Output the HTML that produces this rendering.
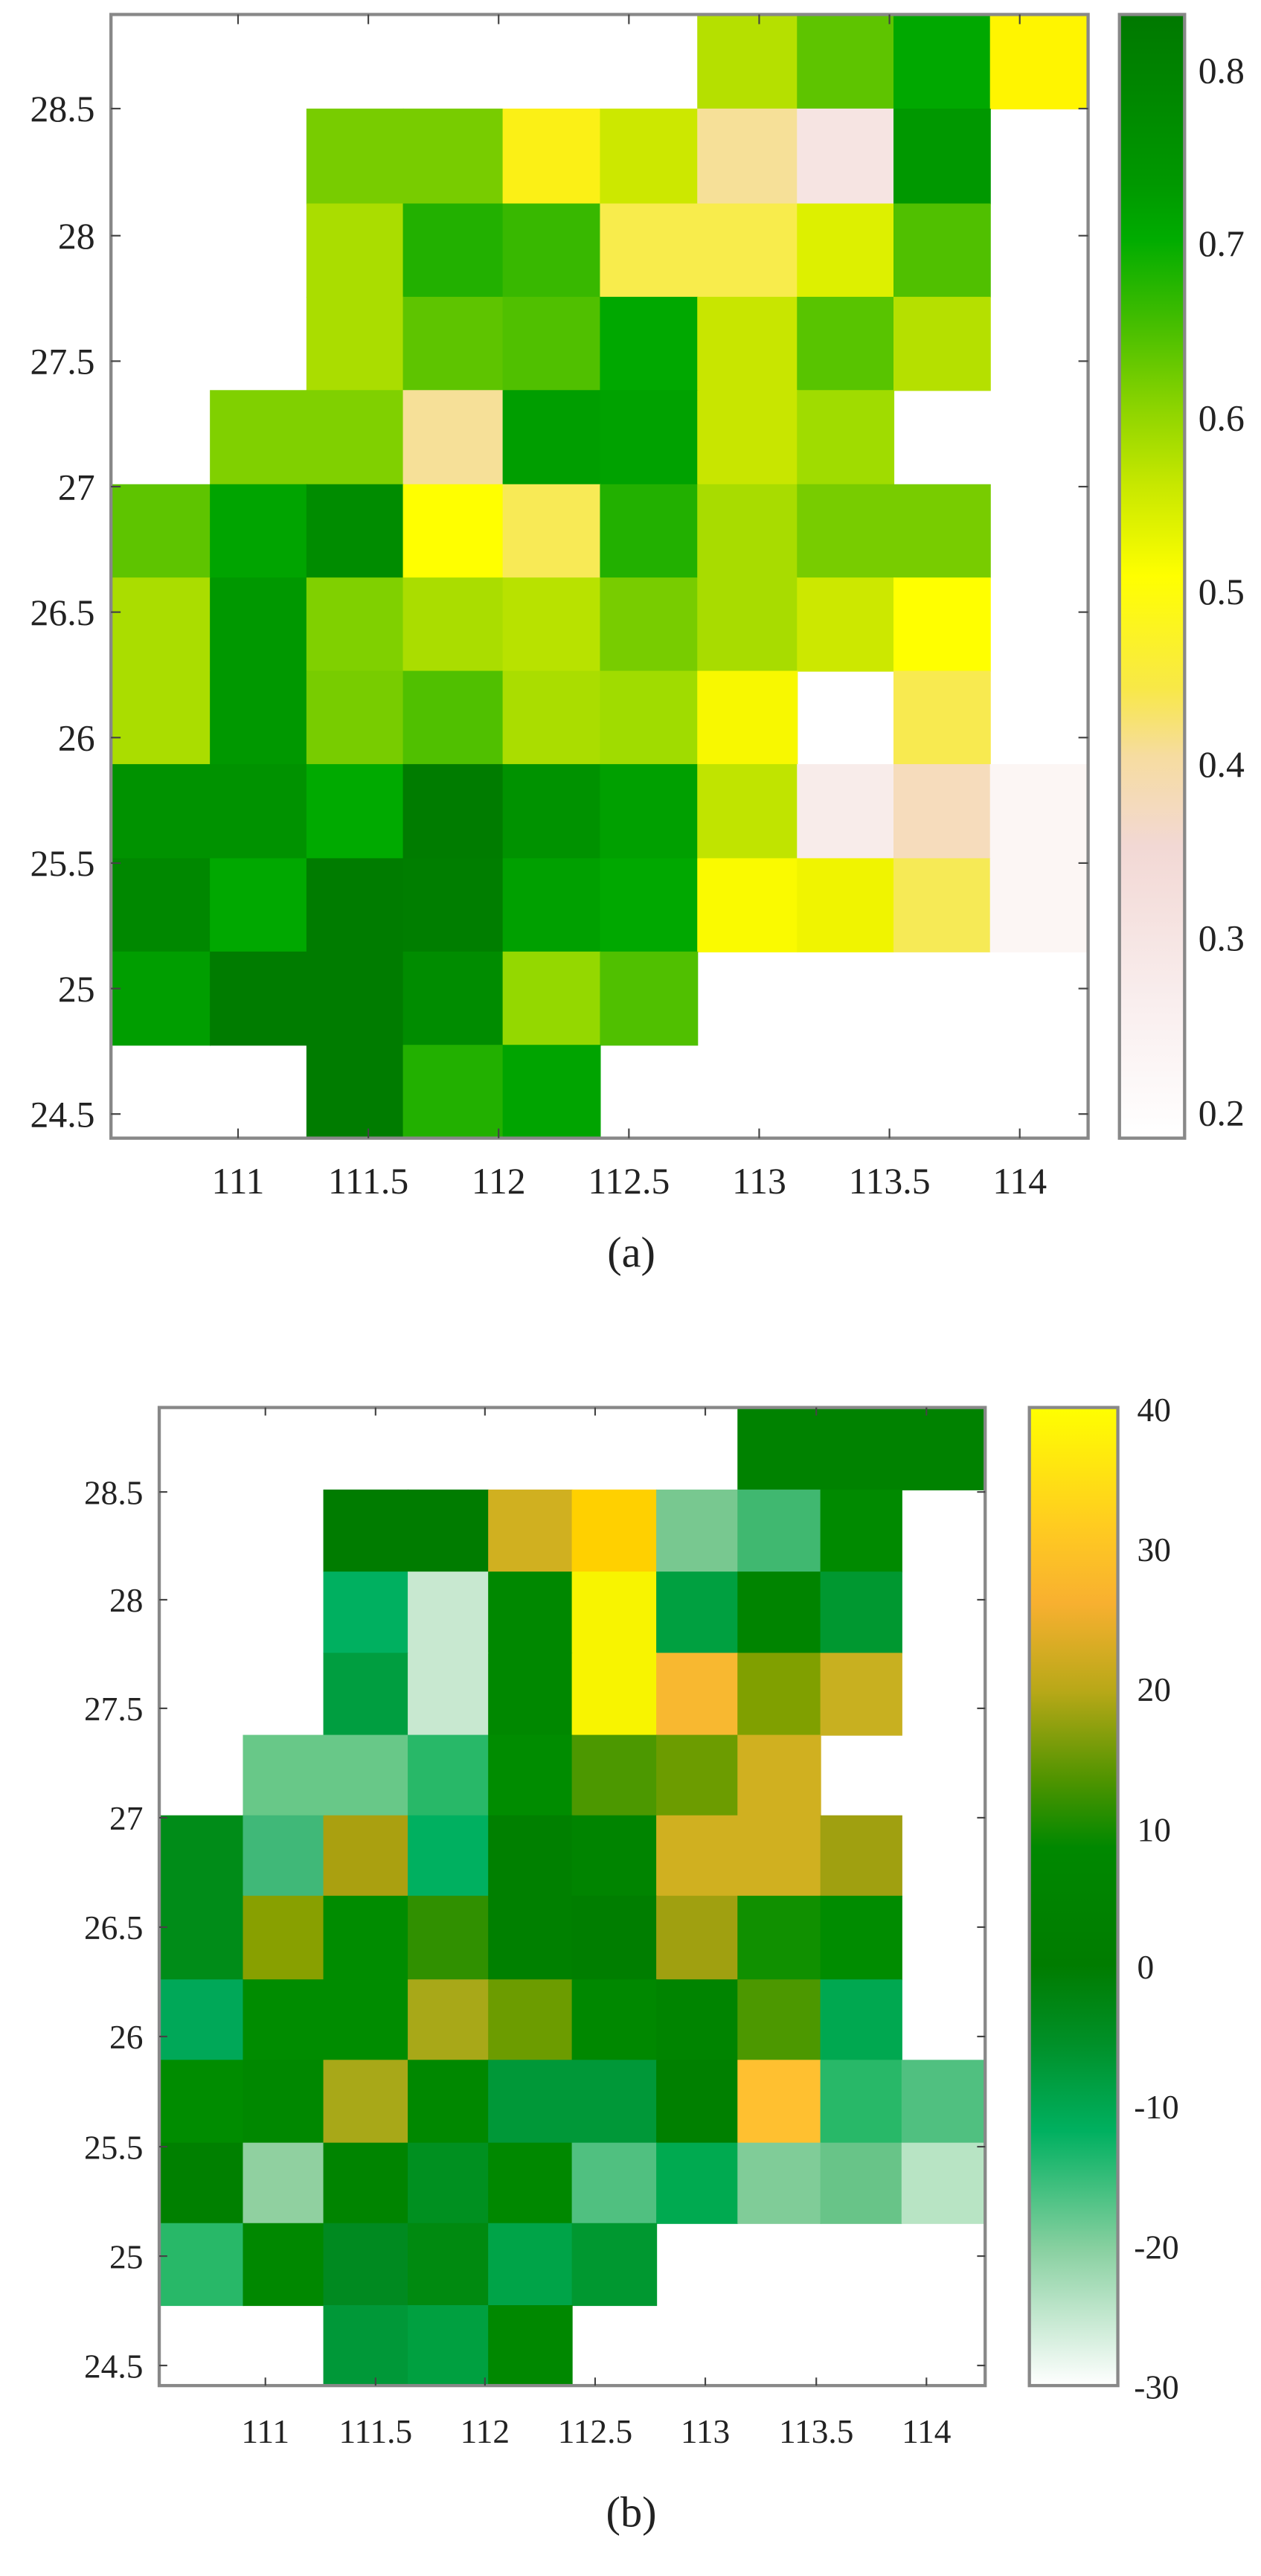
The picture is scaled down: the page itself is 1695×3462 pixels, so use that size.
<!DOCTYPE html>
<html><head><meta charset="utf-8"><style>html,body{margin:0;padding:0;background:#fff}svg{display:block}text{font-family:"Liberation Serif",serif;fill:#222}</style></head>
<body>
<svg width="1695" height="3462" viewBox="0 0 1695 3462" xmlns="http://www.w3.org/2000/svg">
<defs>
<linearGradient id="ga" x1="0" y1="0" x2="0" y2="1">
<stop offset="0" stop-color="#007800"/><stop offset="0.15" stop-color="#009800"/><stop offset="0.2" stop-color="#00ac00"/><stop offset="0.27" stop-color="#40bc00"/><stop offset="0.35" stop-color="#8cd400"/><stop offset="0.42" stop-color="#c8e800"/><stop offset="0.5" stop-color="#ffff00"/><stop offset="0.6" stop-color="#f8e848"/><stop offset="0.66" stop-color="#f6dca0"/><stop offset="0.74" stop-color="#f2d8d4"/><stop offset="0.88" stop-color="#f9eeee"/><stop offset="1" stop-color="#ffffff"/>
</linearGradient>
<linearGradient id="gb" x1="0" y1="0" x2="0" y2="1">
<stop offset="0" stop-color="#ffff00"/><stop offset="0.12" stop-color="#ffcc20"/><stop offset="0.2" stop-color="#f8b030"/><stop offset="0.29" stop-color="#b8a818"/><stop offset="0.38" stop-color="#509400"/><stop offset="0.45" stop-color="#008800"/><stop offset="0.57" stop-color="#007c00"/><stop offset="0.65" stop-color="#009028"/><stop offset="0.74" stop-color="#00b060"/><stop offset="0.86" stop-color="#88d0a0"/><stop offset="1" stop-color="#ffffff"/>
</linearGradient>
</defs>

<g transform="scale(1.081)">
<g>
<g transform="translate(0,18)">
<rect x="867" y="0" width="125" height="118" fill="#b5e000"/><rect x="991" y="0" width="121" height="118" fill="#5ec400"/><rect x="1111" y="0" width="121" height="118" fill="#00a800"/><rect x="1231" y="0" width="122" height="118" fill="#fff500"/>
</g>
<g transform="translate(0,135)">
<rect x="381" y="0" width="121" height="119" fill="#78cc00"/><rect x="501" y="0" width="125" height="119" fill="#78cc00"/><rect x="625" y="0" width="122" height="119" fill="#fbf016"/><rect x="746" y="0" width="122" height="119" fill="#cce800"/><rect x="867" y="0" width="125" height="119" fill="#f6e098"/><rect x="991" y="0" width="121" height="119" fill="#f6e4e2"/><rect x="1111" y="0" width="121" height="119" fill="#009800"/>
</g>
<g transform="translate(0,253)">
<rect x="381" y="0" width="121" height="117" fill="#aadd00"/><rect x="501" y="0" width="125" height="117" fill="#22b000"/><rect x="625" y="0" width="122" height="117" fill="#38b800"/><rect x="746" y="0" width="122" height="117" fill="#f8ec4c"/><rect x="867" y="0" width="125" height="117" fill="#f8ec4c"/><rect x="991" y="0" width="121" height="117" fill="#ddf000"/><rect x="1111" y="0" width="121" height="117" fill="#50c000"/>
</g>
<g transform="translate(0,369)">
<rect x="381" y="0" width="121" height="117" fill="#aadd00"/><rect x="501" y="0" width="125" height="117" fill="#5ec400"/><rect x="625" y="0" width="122" height="117" fill="#50c000"/><rect x="746" y="0" width="122" height="117" fill="#00a800"/><rect x="867" y="0" width="125" height="117" fill="#c8e600"/><rect x="991" y="0" width="121" height="117" fill="#58c400"/><rect x="1111" y="0" width="121" height="117" fill="#b5e000"/>
</g>
<g transform="translate(0,485)">
<rect x="261" y="0" width="121" height="118" fill="#80d000"/><rect x="381" y="0" width="121" height="118" fill="#80d000"/><rect x="501" y="0" width="125" height="118" fill="#f6e098"/><rect x="625" y="0" width="122" height="118" fill="#009e00"/><rect x="746" y="0" width="122" height="118" fill="#00a200"/><rect x="867" y="0" width="125" height="118" fill="#c8e600"/><rect x="991" y="0" width="121" height="118" fill="#a0dc00"/>
</g>
<g transform="translate(0,602)">
<rect x="138" y="0" width="124" height="117" fill="#5ec400"/><rect x="261" y="0" width="121" height="117" fill="#00a400"/><rect x="381" y="0" width="121" height="117" fill="#008c00"/><rect x="501" y="0" width="125" height="117" fill="#ffff00"/><rect x="625" y="0" width="122" height="117" fill="#f8ea56"/><rect x="746" y="0" width="122" height="117" fill="#22b000"/><rect x="867" y="0" width="125" height="117" fill="#a8dc00"/><rect x="991" y="0" width="121" height="117" fill="#78cc00"/><rect x="1111" y="0" width="121" height="117" fill="#78cc00"/>
</g>
<g transform="translate(0,718)">
<rect x="138" y="0" width="124" height="117" fill="#aadd00"/><rect x="261" y="0" width="121" height="117" fill="#009800"/><rect x="381" y="0" width="121" height="117" fill="#80d000"/><rect x="501" y="0" width="125" height="117" fill="#aadd00"/><rect x="625" y="0" width="122" height="117" fill="#b8e200"/><rect x="746" y="0" width="122" height="117" fill="#78cc00"/><rect x="867" y="0" width="125" height="117" fill="#a8dc00"/><rect x="991" y="0" width="121" height="117" fill="#cce800"/><rect x="1111" y="0" width="121" height="117" fill="#ffff00"/>
</g>
<g transform="translate(0,834)">
<rect x="138" y="0" width="124" height="117" fill="#aadd00"/><rect x="261" y="0" width="121" height="117" fill="#009800"/><rect x="381" y="0" width="121" height="117" fill="#78cc00"/><rect x="501" y="0" width="125" height="117" fill="#50c000"/><rect x="625" y="0" width="122" height="117" fill="#aadd00"/><rect x="746" y="0" width="122" height="117" fill="#a0dc00"/><rect x="867" y="0" width="125" height="117" fill="#f8f800"/><rect x="1111" y="0" width="121" height="117" fill="#f8ea50"/>
</g>
<g transform="translate(0,950)">
<rect x="138" y="0" width="124" height="118" fill="#009200"/><rect x="261" y="0" width="121" height="118" fill="#009200"/><rect x="381" y="0" width="121" height="118" fill="#00aa00"/><rect x="501" y="0" width="125" height="118" fill="#007c00"/><rect x="625" y="0" width="122" height="118" fill="#009200"/><rect x="746" y="0" width="122" height="118" fill="#00a000"/><rect x="867" y="0" width="125" height="118" fill="#c0e400"/><rect x="991" y="0" width="121" height="118" fill="#f8ecea"/><rect x="1111" y="0" width="121" height="118" fill="#f6dcbc"/><rect x="1231" y="0" width="122" height="118" fill="#fcf6f4"/>
</g>
<g transform="translate(0,1067)">
<rect x="138" y="0" width="124" height="117" fill="#008800"/><rect x="261" y="0" width="121" height="117" fill="#00a800"/><rect x="381" y="0" width="121" height="117" fill="#007c00"/><rect x="501" y="0" width="125" height="117" fill="#007e00"/><rect x="625" y="0" width="122" height="117" fill="#00a000"/><rect x="746" y="0" width="122" height="117" fill="#00a800"/><rect x="867" y="0" width="125" height="117" fill="#fafa00"/><rect x="991" y="0" width="121" height="117" fill="#f0f400"/><rect x="1111" y="0" width="121" height="117" fill="#f6ea56"/><rect x="1231" y="0" width="122" height="117" fill="#fcf6f4"/>
</g>
<g transform="translate(0,1183)">
<rect x="138" y="0" width="124" height="117" fill="#009e00"/><rect x="261" y="0" width="121" height="117" fill="#007c00"/><rect x="381" y="0" width="121" height="117" fill="#007c00"/><rect x="501" y="0" width="125" height="117" fill="#008c00"/><rect x="625" y="0" width="122" height="117" fill="#94d800"/><rect x="746" y="0" width="122" height="117" fill="#50c000"/>
</g>
<g transform="translate(0,1299)">
<rect x="381" y="0" width="121" height="116" fill="#007c00"/><rect x="501" y="0" width="125" height="116" fill="#22b000"/><rect x="625" y="0" width="122" height="116" fill="#00a400"/>
</g>
</g>
<rect x="138" y="18" width="1215" height="1397" fill="none" stroke="#888" stroke-width="4"/>
<rect x="1392" y="18" width="81" height="1397" fill="url(#ga)" stroke="#888" stroke-width="4"/>
<g stroke="#444" stroke-width="2">
<line x1="138" y1="135" x2="150" y2="135"/><line x1="138" y1="293" x2="150" y2="293"/><line x1="138" y1="449" x2="150" y2="449"/><line x1="138" y1="605" x2="150" y2="605"/><line x1="138" y1="761" x2="150" y2="761"/><line x1="138" y1="917" x2="150" y2="917"/><line x1="138" y1="1073" x2="150" y2="1073"/><line x1="138" y1="1229" x2="150" y2="1229"/><line x1="138" y1="1385" x2="150" y2="1385"/>
<line x1="1353" y1="135" x2="1341" y2="135"/><line x1="1353" y1="293" x2="1341" y2="293"/><line x1="1353" y1="449" x2="1341" y2="449"/><line x1="1353" y1="605" x2="1341" y2="605"/><line x1="1353" y1="761" x2="1341" y2="761"/><line x1="1353" y1="917" x2="1341" y2="917"/><line x1="1353" y1="1073" x2="1341" y2="1073"/><line x1="1353" y1="1229" x2="1341" y2="1229"/><line x1="1353" y1="1385" x2="1341" y2="1385"/>
<line x1="296" y1="1415" x2="296" y2="1403"/><line x1="458" y1="1415" x2="458" y2="1403"/><line x1="620" y1="1415" x2="620" y2="1403"/><line x1="782" y1="1415" x2="782" y2="1403"/><line x1="944" y1="1415" x2="944" y2="1403"/><line x1="1106" y1="1415" x2="1106" y2="1403"/><line x1="1268" y1="1415" x2="1268" y2="1403"/>
<line x1="296" y1="18" x2="296" y2="30"/><line x1="458" y1="18" x2="458" y2="30"/><line x1="620" y1="18" x2="620" y2="30"/><line x1="782" y1="18" x2="782" y2="30"/><line x1="944" y1="18" x2="944" y2="30"/><line x1="1106" y1="18" x2="1106" y2="30"/><line x1="1268" y1="18" x2="1268" y2="30"/>
</g>
<g font-size="46" text-anchor="end">
<text x="118" y="151">28.5</text><text x="118" y="309">28</text><text x="118" y="465">27.5</text><text x="118" y="621">27</text><text x="118" y="777">26.5</text><text x="118" y="933">26</text><text x="118" y="1089">25.5</text><text x="118" y="1245">25</text><text x="118" y="1401">24.5</text>
</g>
<g font-size="46" text-anchor="middle">
<text x="296" y="1484">111</text><text x="458" y="1484">111.5</text><text x="620" y="1484">112</text><text x="782" y="1484">112.5</text><text x="944" y="1484">113</text><text x="1106" y="1484">113.5</text><text x="1268" y="1484">114</text>
<text x="785" y="1575" font-size="54">(a)</text>
</g>
<g font-size="46">
<text x="1490" y="103">0.8</text><text x="1490" y="318">0.7</text><text x="1490" y="535">0.6</text><text x="1490" y="751">0.5</text><text x="1490" y="966">0.4</text><text x="1490" y="1182">0.3</text><text x="1490" y="1399">0.2</text>
</g>
</g>

<g transform="translate(0,1750) scale(1.081)">
<g>
<g transform="translate(0,131)">
<rect x="917" y="0" width="104" height="103" fill="#008200"/><rect x="1020" y="0" width="102" height="103" fill="#008200"/><rect x="1121" y="0" width="104" height="103" fill="#008200"/>
</g>
<g transform="translate(0,233)">
<rect x="402" y="0" width="106" height="103" fill="#007c00"/><rect x="507" y="0" width="101" height="103" fill="#007c00"/><rect x="607" y="0" width="105" height="103" fill="#d0b020"/><rect x="711" y="0" width="106" height="103" fill="#ffd000"/><rect x="816" y="0" width="102" height="103" fill="#78c890"/><rect x="917" y="0" width="104" height="103" fill="#40b870"/><rect x="1020" y="0" width="102" height="103" fill="#008a00"/>
</g>
<g transform="translate(0,335)">
<rect x="402" y="0" width="106" height="102" fill="#00b060"/><rect x="507" y="0" width="101" height="102" fill="#c8e8d0"/><rect x="607" y="0" width="105" height="102" fill="#008800"/><rect x="711" y="0" width="106" height="102" fill="#f8f400"/><rect x="816" y="0" width="102" height="102" fill="#00a040"/><rect x="917" y="0" width="104" height="102" fill="#008400"/><rect x="1020" y="0" width="102" height="102" fill="#009830"/>
</g>
<g transform="translate(0,436)">
<rect x="402" y="0" width="106" height="103" fill="#009e40"/><rect x="507" y="0" width="101" height="103" fill="#c8e8d0"/><rect x="607" y="0" width="105" height="103" fill="#008800"/><rect x="711" y="0" width="106" height="103" fill="#f8f400"/><rect x="816" y="0" width="102" height="103" fill="#f8b830"/><rect x="917" y="0" width="104" height="103" fill="#80a000"/><rect x="1020" y="0" width="102" height="103" fill="#c8b020"/>
</g>
<g transform="translate(0,538)">
<rect x="302" y="0" width="101" height="101" fill="#68c888"/><rect x="402" y="0" width="106" height="101" fill="#68c888"/><rect x="507" y="0" width="101" height="101" fill="#28b868"/><rect x="607" y="0" width="105" height="101" fill="#008c00"/><rect x="711" y="0" width="106" height="101" fill="#4c9800"/><rect x="816" y="0" width="102" height="101" fill="#6c9c00"/><rect x="917" y="0" width="104" height="101" fill="#d0b020"/>
</g>
<g transform="translate(0,638)">
<rect x="198" y="0" width="105" height="101" fill="#008c18"/><rect x="302" y="0" width="101" height="101" fill="#40b878"/><rect x="402" y="0" width="106" height="101" fill="#aaa010"/><rect x="507" y="0" width="101" height="101" fill="#00b060"/><rect x="607" y="0" width="105" height="101" fill="#008000"/><rect x="711" y="0" width="106" height="101" fill="#008400"/><rect x="816" y="0" width="102" height="101" fill="#d0b020"/><rect x="917" y="0" width="104" height="101" fill="#d0b020"/><rect x="1020" y="0" width="102" height="101" fill="#a0a010"/>
</g>
<g transform="translate(0,738)">
<rect x="198" y="0" width="105" height="105" fill="#008c18"/><rect x="302" y="0" width="101" height="105" fill="#88a000"/><rect x="402" y="0" width="106" height="105" fill="#008c00"/><rect x="507" y="0" width="101" height="105" fill="#309000"/><rect x="607" y="0" width="105" height="105" fill="#008000"/><rect x="711" y="0" width="106" height="105" fill="#007e00"/><rect x="816" y="0" width="102" height="105" fill="#a0a010"/><rect x="917" y="0" width="104" height="105" fill="#109000"/><rect x="1020" y="0" width="102" height="105" fill="#008c00"/>
</g>
<g transform="translate(0,842)">
<rect x="198" y="0" width="105" height="101" fill="#00a858"/><rect x="302" y="0" width="101" height="101" fill="#008c00"/><rect x="402" y="0" width="106" height="101" fill="#008c00"/><rect x="507" y="0" width="101" height="101" fill="#a8a818"/><rect x="607" y="0" width="105" height="101" fill="#6c9c00"/><rect x="711" y="0" width="106" height="101" fill="#008800"/><rect x="816" y="0" width="102" height="101" fill="#008400"/><rect x="917" y="0" width="104" height="101" fill="#4c9800"/><rect x="1020" y="0" width="102" height="101" fill="#00a850"/>
</g>
<g transform="translate(0,942)">
<rect x="198" y="0" width="105" height="104" fill="#008c00"/><rect x="302" y="0" width="101" height="104" fill="#008800"/><rect x="402" y="0" width="106" height="104" fill="#a8a818"/><rect x="507" y="0" width="101" height="104" fill="#008800"/><rect x="607" y="0" width="105" height="104" fill="#009838"/><rect x="711" y="0" width="106" height="104" fill="#009838"/><rect x="816" y="0" width="102" height="104" fill="#008000"/><rect x="917" y="0" width="104" height="104" fill="#ffc030"/><rect x="1020" y="0" width="102" height="104" fill="#28b868"/><rect x="1121" y="0" width="104" height="104" fill="#50c080"/>
</g>
<g transform="translate(0,1045)">
<rect x="198" y="0" width="105" height="101" fill="#008000"/><rect x="302" y="0" width="101" height="101" fill="#90d0a0"/><rect x="402" y="0" width="106" height="101" fill="#008400"/><rect x="507" y="0" width="101" height="101" fill="#009020"/><rect x="607" y="0" width="105" height="101" fill="#008800"/><rect x="711" y="0" width="106" height="101" fill="#50c080"/><rect x="816" y="0" width="102" height="101" fill="#00aa50"/><rect x="917" y="0" width="104" height="101" fill="#80cc98"/><rect x="1020" y="0" width="102" height="101" fill="#68c488"/><rect x="1121" y="0" width="104" height="101" fill="#b8e4c4"/>
</g>
<g transform="translate(0,1145)">
<rect x="198" y="0" width="105" height="103" fill="#28b868"/><rect x="302" y="0" width="101" height="103" fill="#008800"/><rect x="402" y="0" width="106" height="103" fill="#008a20"/><rect x="507" y="0" width="101" height="103" fill="#008a10"/><rect x="607" y="0" width="105" height="103" fill="#00a448"/><rect x="711" y="0" width="106" height="103" fill="#009830"/>
</g>
<g transform="translate(0,1247)">
<rect x="402" y="0" width="106" height="100" fill="#009838"/><rect x="507" y="0" width="101" height="100" fill="#00a040"/><rect x="607" y="0" width="105" height="100" fill="#008800"/>
</g>
</g>
<rect x="198" y="131" width="1027" height="1216" fill="none" stroke="#888" stroke-width="4"/>
<rect x="1280" y="131" width="110" height="1216" fill="url(#gb)" stroke="#888" stroke-width="4"/>
<g stroke="#444" stroke-width="2">
<line x1="198" y1="236" x2="208" y2="236"/><line x1="198" y1="370" x2="208" y2="370"/><line x1="198" y1="505" x2="208" y2="505"/><line x1="198" y1="641" x2="208" y2="641"/><line x1="198" y1="777" x2="208" y2="777"/><line x1="198" y1="913" x2="208" y2="913"/><line x1="198" y1="1050" x2="208" y2="1050"/><line x1="198" y1="1186" x2="208" y2="1186"/><line x1="198" y1="1322" x2="208" y2="1322"/>
<line x1="1225" y1="236" x2="1215" y2="236"/><line x1="1225" y1="370" x2="1215" y2="370"/><line x1="1225" y1="505" x2="1215" y2="505"/><line x1="1225" y1="641" x2="1215" y2="641"/><line x1="1225" y1="777" x2="1215" y2="777"/><line x1="1225" y1="913" x2="1215" y2="913"/><line x1="1225" y1="1050" x2="1215" y2="1050"/><line x1="1225" y1="1186" x2="1215" y2="1186"/><line x1="1225" y1="1322" x2="1215" y2="1322"/>
<line x1="330" y1="1347" x2="330" y2="1337"/><line x1="467" y1="1347" x2="467" y2="1337"/><line x1="603" y1="1347" x2="603" y2="1337"/><line x1="740" y1="1347" x2="740" y2="1337"/><line x1="877" y1="1347" x2="877" y2="1337"/><line x1="1015" y1="1347" x2="1015" y2="1337"/><line x1="1152" y1="1347" x2="1152" y2="1337"/>
<line x1="330" y1="131" x2="330" y2="141"/><line x1="467" y1="131" x2="467" y2="141"/><line x1="603" y1="131" x2="603" y2="141"/><line x1="740" y1="131" x2="740" y2="141"/><line x1="877" y1="131" x2="877" y2="141"/><line x1="1015" y1="131" x2="1015" y2="141"/><line x1="1152" y1="131" x2="1152" y2="141"/>
</g>
<g font-size="42" text-anchor="end">
<text x="178" y="251">28.5</text><text x="178" y="385">28</text><text x="178" y="520">27.5</text><text x="178" y="656">27</text><text x="178" y="792">26.5</text><text x="178" y="928">26</text><text x="178" y="1065">25.5</text><text x="178" y="1201">25</text><text x="178" y="1337">24.5</text>
</g>
<g font-size="42" text-anchor="middle">
<text x="330" y="1418">111</text><text x="467" y="1418">111.5</text><text x="603" y="1418">112</text><text x="740" y="1418">112.5</text><text x="877" y="1418">113</text><text x="1015" y="1418">113.5</text><text x="1152" y="1418">114</text>
<text x="785" y="1522" font-size="54">(b)</text>
</g>
<g font-size="42">
<text x="1414" y="148">40</text><text x="1414" y="322">30</text><text x="1414" y="496">20</text><text x="1414" y="670">10</text><text x="1414" y="841">0</text><text x="1410" y="1015">-10</text><text x="1410" y="1189">-20</text><text x="1410" y="1363">-30</text>
</g>
</g>
</svg>
</body></html>
